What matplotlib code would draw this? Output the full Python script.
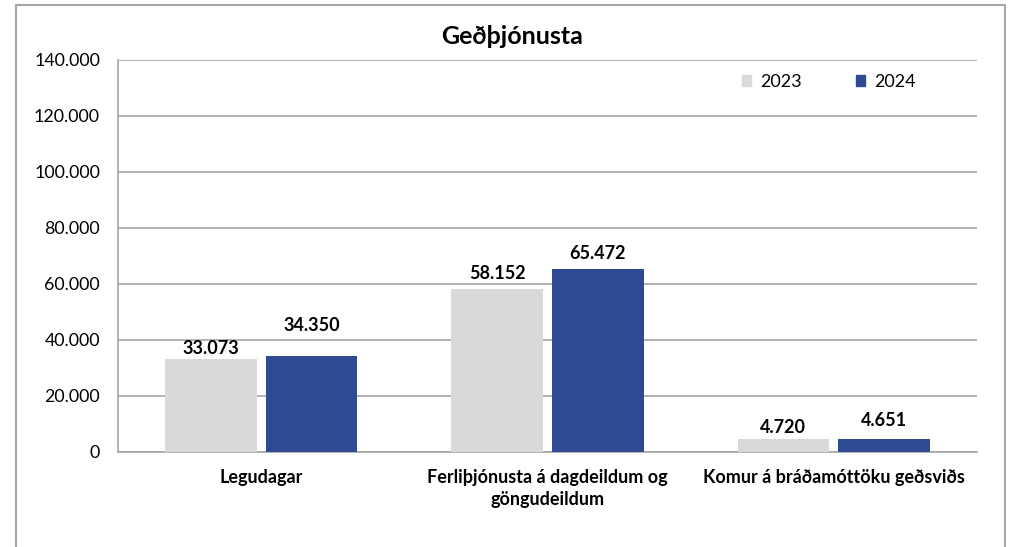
import matplotlib
matplotlib.use("Agg")
import matplotlib.pyplot as plt
import numpy as np
from matplotlib.patches import Rectangle
from matplotlib.lines import Line2D

categories = ["Legudagar", "Ferliþjónusta á dagdeildum og\ngöngudeildum", "Komur á bráðamóttöku geðsviðs"]
series_names = ["2023", "2024"]
values_2023 = [33073, 58152, 4720]
values_2024 = [34350, 65472, 4651]
yticks = [0, 20000, 40000, 60000, 80000, 100000, 120000, 140000]
title = "Geðþjónusta"

colors = ["#d9d9d9", "#2e4a93"]
label_offsets_2023 = [2, 5, 2]
label_offsets_2024 = [16, 5, 7]

plt.rcParams['font.family'] = ['Lato', 'DejaVu Sans']

W, H = 1013, 547
fig = plt.figure(figsize=(W / 100, H / 100), dpi=100)

# outer chart frame
fig.add_artist(Line2D([16 / W, 16 / W, 1005 / W, 1005 / W], [0, 1 - 5 / H, 1 - 5 / H, 0],
                      transform=fig.transFigure, color="#a6a6a6", lw=1.5))

ax = fig.add_axes([118 / W, 1 - 452 / H, (977 - 118) / W, (452 - 60) / H])
x = np.arange(len(categories))
width = 0.32
offset = 0.176
b1 = ax.bar(x - offset, values_2023, width, color=colors[0], label=series_names[0], zorder=3)
b2 = ax.bar(x + offset, values_2024, width, color=colors[1], label=series_names[1], zorder=3)

def fmt(v):
    return f"{v:,.0f}".replace(",", ".")

for bars, vals, offs in [(b1, values_2023, label_offsets_2023), (b2, values_2024, label_offsets_2024)]:
    for rect, v, o in zip(bars, vals, offs):
        ax.annotate(fmt(v), (rect.get_x() + rect.get_width() / 2, v), xytext=(0, o),
                    textcoords="offset points", ha="center", va="bottom",
                    fontsize=13, fontweight="bold", color="black")

ax.set_xlim(-0.5, len(categories) - 0.5)
ax.set_ylim(0, 140000)
ax.set_yticks(yticks)
ax.set_yticklabels([fmt(t) for t in yticks], fontsize=12.8)
ax.set_xticks(x)
ax.set_xticklabels(categories, fontsize=13, fontweight="bold", linespacing=1.4)
ax.tick_params(axis="both", length=0)
ax.tick_params(axis="y", pad=13)
ax.tick_params(axis="x", pad=12)
ax.grid(axis="y", color="#a6a6a6", lw=1.2, zorder=0)
ax.spines["right"].set_visible(False)
ax.spines["top"].set_visible(False)
for s in ["left", "bottom"]:
    ax.spines[s].set_color("#a6a6a6")
    ax.spines[s].set_linewidth(1.2)

fig.text(512 / W, 1 - 36 / H, title, ha="center", va="center", fontsize=18, fontweight="bold")

handles = [Rectangle((0, 0), 1, 1, color=c) for c in colors]
leg = fig.legend(handles, series_names, loc="center", bbox_to_anchor=(829 / W, 1 - 82 / H),
                 ncol=2, frameon=False, fontsize=13, handlelength=0.5, handleheight=0.5,
                 handletextpad=0.5, columnspacing=3.0)

fig.savefig("out.png", dpi=100)
